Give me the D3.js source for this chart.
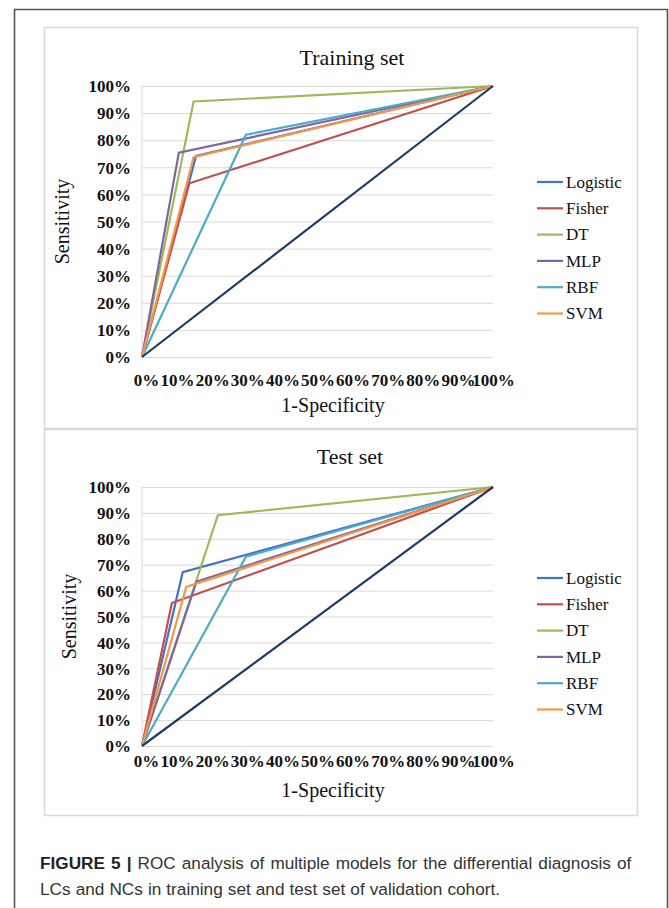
<!DOCTYPE html>
<html>
<head>
<meta charset="utf-8">
<script src="https://cdn.jsdelivr.net/npm/d3@7/dist/d3.min.js"></script>
<style>
  html, body { margin: 0; padding: 0; background: #fff; }
  svg { display: block; }
</style>
</head>
<body>
<svg id="fig" width="669" height="908"></svg>
<script>
// ---------- DATA ----------
const models = ["Logistic", "Fisher", "DT", "MLP", "RBF", "SVM"];
const colors = ["#4472C4", "#C0504D", "#9BBB59", "#8064A2", "#4BACC6", "#F79646"];
const refColor = "#1F3B66";
const tickLabels = ["0%", "10%", "20%", "30%", "40%", "50%", "60%", "70%", "80%", "90%", "100%"];
const tickValues = [0, 0.1, 0.2, 0.3, 0.4, 0.5, 0.6, 0.7, 0.8, 0.9, 1.0];

// ROC points (1-Specificity, Sensitivity); each curve: (0,0) -> operating point -> (1,1)
const trainFPR = [0.154, 0.135, 0.147, 0.105, 0.296, 0.147];
const trainTPR = [0.742, 0.641, 0.943, 0.754, 0.820, 0.737];
const testFPR  = [0.116, 0.085, 0.216, 0.155, 0.296, 0.126];
const testTPR  = [0.671, 0.552, 0.891, 0.635, 0.731, 0.614];
const refFPR = [0, 1];
const refTPR = [0, 1];

const captionBold = "FIGURE 5 |";
const captionLine1 = " ROC analysis of multiple models for the differential diagnosis of";
const captionLine2 = "LCs and NCs in training set and test set of validation cohort.";

// ---------- DRAW ----------
const svg = d3.select("#fig");
const serif = "'Liberation Serif', 'Times New Roman', serif";

// outer figure frame
svg.append("path")
  .attr("d", "M14.5,908 L14.5,9.5 L667.5,9.5 L667.5,908")
  .attr("fill", "none").attr("stroke", "#555").attr("stroke-width", 1.6);

// chart frames
svg.append("rect").attr("x", 44.5).attr("y", 27.5).attr("width", 593).attr("height", 401)
  .attr("fill", "none").attr("stroke", "#D9D9D9").attr("stroke-width", 1.5);
svg.append("rect").attr("x", 44.5).attr("y", 429.5).attr("width", 593).attr("height", 386)
  .attr("fill", "none").attr("stroke", "#D9D9D9").attr("stroke-width", 1.5);

function drawChart(cfg) {
  const x = d3.scaleLinear().domain([0, 1]).range([cfg.x0, cfg.x1]);
  const y = d3.scaleLinear().domain([0, 1]).range([cfg.y0, cfg.y1]);
  const g = svg.append("g");

  // gridlines
  g.append("g").attr("transform", `translate(${cfg.x0},0)`)
    .call(d3.axisLeft(y).tickValues(tickValues).tickSize(-(cfg.x1 - cfg.x0)).tickFormat(""))
    .call(a => a.select(".domain").remove())
    .call(a => a.selectAll("line").attr("stroke", "#D9D9D9").attr("stroke-width", 1));
  g.append("line").attr("x1", cfg.x0).attr("x2", cfg.x0).attr("y1", cfg.y0).attr("y2", cfg.y1)
    .attr("stroke", "#D9D9D9");

  // y axis labels
  const ya = g.append("g").attr("transform", `translate(${cfg.x0 - 11},0)`)
    .call(d3.axisLeft(y).tickValues(tickValues).tickSize(0).tickFormat((d, i) => tickLabels[i]));
  ya.select(".domain").remove();
  ya.selectAll("text").attr("font-family", serif).attr("font-weight", "bold")
    .attr("font-size", 17).attr("fill", "#111").attr("dy", "0.34em").attr("x", 0);

  // x axis labels
  const xa = g.append("g").attr("transform", `translate(0,${cfg.y0 + cfg.xLabOff})`)
    .call(d3.axisBottom(x).tickValues(tickValues).tickSize(0).tickFormat((d, i) => tickLabels[i]));
  xa.select(".domain").remove();
  xa.selectAll("text").attr("font-family", serif).attr("font-weight", "bold")
    .attr("font-size", 17).attr("fill", "#111").attr("dy", "0.71em").attr("y", 0)
    .attr("dx", (d, i) => i === 0 ? 4 : 0);

  const line = d3.line().x(d => x(d[0])).y(d => y(d[1]));

  // model curves
  models.forEach((m, i) => {
    const pts = [[0, 0], [cfg.fpr[i], cfg.tpr[i]], [1, 1]];
    g.append("path").datum(pts).attr("d", line)
      .attr("fill", "none").attr("stroke", colors[i]).attr("stroke-width", 2.2)
      .attr("stroke-linejoin", "miter");
  });
  // reference diagonal
  g.append("path").datum(refFPR.map((v, i) => [v, refTPR[i]])).attr("d", line)
    .attr("fill", "none").attr("stroke", refColor).attr("stroke-width", 2.2);

  // title
  g.append("text").attr("x", cfg.titleX).attr("y", cfg.titleY).attr("text-anchor", "middle")
    .attr("font-family", serif).attr("font-size", 22).attr("fill", "#111").text(cfg.title);

  // axis titles
  g.append("text").attr("x", 333).attr("y", cfg.xTitleY).attr("text-anchor", "middle")
    .attr("font-family", serif).attr("font-size", 20).attr("fill", "#111").text("1-Specificity");
  g.append("text").attr("transform", `translate(${cfg.yTitleX},${(cfg.y0 + cfg.y1) / 2}) rotate(-90)`)
    .attr("text-anchor", "middle")
    .attr("font-family", serif).attr("font-size", 20).attr("fill", "#111").text("Sensitivity");

  // legend
  const lg = g.append("g");
  models.forEach((m, i) => {
    const ly = cfg.legY + i * 26.3;
    lg.append("line").attr("x1", 537).attr("x2", 563).attr("y1", ly).attr("y2", ly)
      .attr("stroke", colors[i]).attr("stroke-width", 2.2);
    lg.append("text").attr("x", 566).attr("y", ly).attr("dy", "0.33em")
      .attr("font-family", serif).attr("font-size", 17).attr("fill", "#111").text(m);
  });
}

drawChart({
  title: "Training set", titleX: 352, titleY: 65,
  x0: 142, x1: 493, y0: 357, y1: 86, xLabOff: 17,
  fpr: trainFPR, tpr: trainTPR,
  xTitleY: 412, yTitleX: 69, legY: 182
});
drawChart({
  title: "Test set", titleX: 350, titleY: 464,
  x0: 142, x1: 493, y0: 746, y1: 487, xLabOff: 9,
  fpr: testFPR, tpr: testTPR,
  xTitleY: 797, yTitleX: 76, legY: 578
});

// caption
const cap = svg.append("text").attr("x", 40).attr("y", 869)
  .attr("font-family", "'Liberation Sans', Arial, sans-serif").attr("font-size", 17.2)
  .attr("fill", "#333").attr("word-spacing", 1.3);
cap.append("tspan").attr("font-weight", "bold").attr("fill", "#222").text(captionBold);
cap.append("tspan").text(captionLine1);
svg.append("text").attr("x", 40).attr("y", 895)
  .attr("font-family", "'Liberation Sans', Arial, sans-serif").attr("font-size", 17.2)
  .attr("fill", "#333").attr("word-spacing", 0.3)
  .text(captionLine2);
</script>
</body>
</html>
